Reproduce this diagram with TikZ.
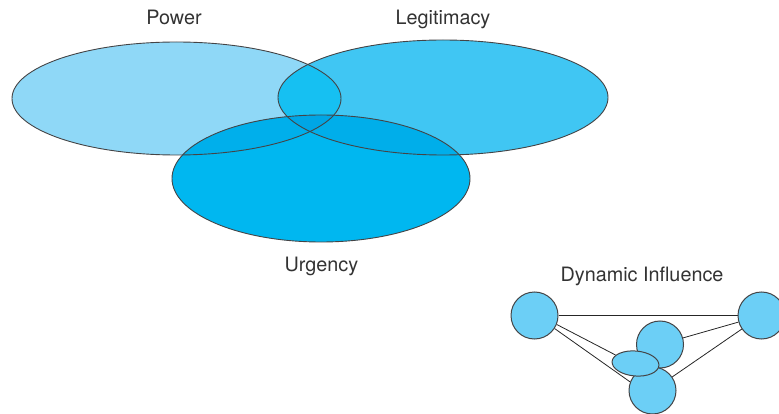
\documentclass[tikz,border=0pt]{standalone}
\usepackage{fontspec}
\setmainfont{TeX Gyre Heros}
\usetikzlibrary{shapes.geometric,backgrounds}

\definecolor{powerblue}{HTML}{8FD8F7}
\definecolor{legitblue}{HTML}{40C6F3}
\definecolor{urgentblue}{HTML}{00B7F0}
\definecolor{plblue}{HTML}{16C0F2}
\definecolor{publue}{HTML}{00AFEB}
\definecolor{lublue}{HTML}{00AEEA}
\definecolor{plublue}{HTML}{00A6E5}
\definecolor{dotblue}{HTML}{6CCFF6}
\definecolor{rimgray}{HTML}{444446}
\definecolor{textgray}{HTML}{333333}

\tikzset{
  lbl/.style={anchor=base, inner sep=0pt, text=textgray, font=\fontsize{19.8}{23}\selectfont},
  rim/.style={draw=rimgray, line width=0.9pt},
  dot/.style={circle, draw=rimgray, line width=1pt, fill=dotblue, minimum size=47pt, inner sep=0pt},
  link/.style={draw=black!85, line width=0.8pt}
}

\begin{document}
\begin{tikzpicture}[x=1pt,y=-1pt]
  \useasboundingbox (0,0) rectangle (779,414);

  \coordinate (pw) at (176.5,98.5);
  \coordinate (lg) at (443,97.5);
  \coordinate (ug) at (321,178.5);

  % plain fills
  \fill[powerblue] (pw) ellipse [x radius=164.5pt, y radius=56.5pt];
  \fill[legitblue] (lg) ellipse [x radius=165pt, y radius=57.5pt];
  \fill[urgentblue] (ug) ellipse [x radius=149pt, y radius=63.5pt];

  % overlaps
  \begin{scope}
    \clip (pw) ellipse [x radius=164.5pt, y radius=56.5pt];
    \fill[plblue] (lg) ellipse [x radius=165pt, y radius=57.5pt];
    \fill[publue] (ug) ellipse [x radius=149pt, y radius=63.5pt];
  \end{scope}
  \begin{scope}
    \clip (lg) ellipse [x radius=165pt, y radius=57.5pt];
    \fill[lublue] (ug) ellipse [x radius=149pt, y radius=63.5pt];
    \clip (pw) ellipse [x radius=164.5pt, y radius=56.5pt];
    \fill[plublue] (ug) ellipse [x radius=149pt, y radius=63.5pt];
  \end{scope}

  % outlines
  \draw[rim] (pw) ellipse [x radius=164.5pt, y radius=56.5pt];
  \draw[rim] (lg) ellipse [x radius=165pt, y radius=57.5pt];
  \draw[rim] (ug) ellipse [x radius=149pt, y radius=63.5pt];

  \node[lbl] (power) at (174,25) {Power};
  \node[lbl] (legit) at (443,25) {Legitimacy};
  \node[lbl] (urgent) at (321.5,271) {Urgency};

  % dynamic influence
  \node[lbl] (dyn) at (642,281) {Dynamic Influence};

  \node[dot] (dl) at (534.5,315.5) {};
  \node[dot] (dr) at (761.5,315.5) {};
  \node[dot] (dm) at (660,344.5) {};
  \node[dot] (db) at (652.5,390.5) {};
  \node[ellipse, draw=rimgray, line width=1pt, fill=dotblue, minimum width=47pt,
        minimum height=25pt, inner sep=0pt, rotate=-5] (de) at (635.5,363.5) {};

  \begin{scope}[on background layer]
    \draw[link] (dl) -- (dr);
    \draw[link] (dl.-22) -- (de.162);
    \draw[link] (dl.-33) -- (db.159);
    \draw[link] (dm) -- (dr);
    \draw[link] (db) -- (dr);
  \end{scope}
\end{tikzpicture}
\end{document}
